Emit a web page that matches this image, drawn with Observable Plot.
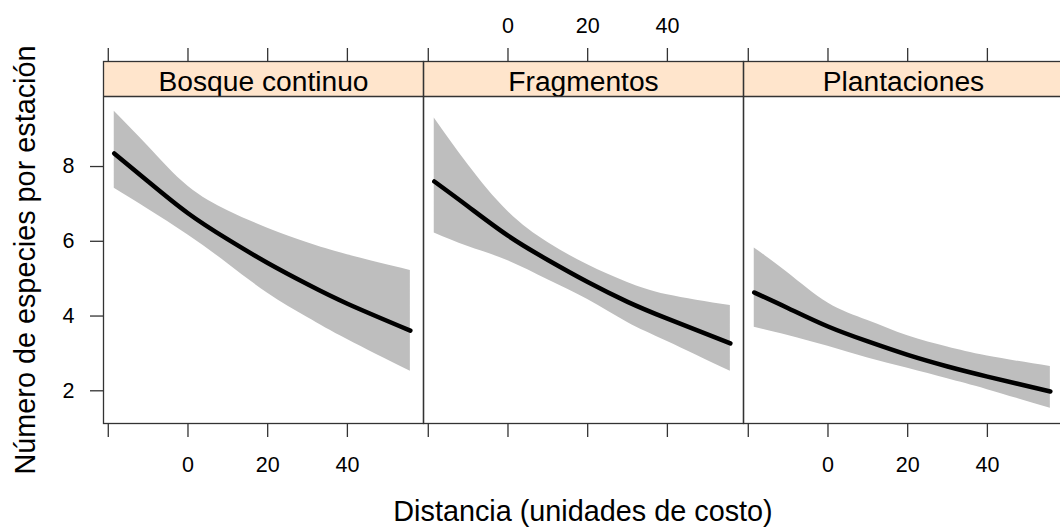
<!DOCTYPE html>
<html>
<head>
<meta charset="utf-8">
<script src="https://cdn.jsdelivr.net/npm/d3@7"></script>
<script src="https://cdn.jsdelivr.net/npm/@observablehq/plot@0.6"></script>
<style>
  html, body { margin: 0; padding: 0; background: #fff; overflow: hidden; }
  #chart { position: relative; width: 1060px; height: 527px; overflow: hidden;
           font-family: "Liberation Sans", Arial, Helvetica, sans-serif; }
  #chart svg { display: block; }
  .axis-title { position: absolute; font-size: 28.8px; line-height: 1; color: #000;
                white-space: nowrap; transform: translate(-50%, -50%); }
  .axis-title.y { transform: translate(-50%, -50%) rotate(-90deg); }
</style>
</head>
<body>
<div id="chart">
  <div class="axis-title y" style="left:25px; top:260px;">Número de especies por estación</div>
  <div class="axis-title x" style="left:583px; top:511px;">Distancia (unidades de costo)</div>
</div>
<script>
// Paneles (tipo de hábitat)
const panels = ["Bosque continuo", "Fragmentos", "Plantaciones"];

// Distancia en la que se evalúa el efecto
const distance = [-18.5, -10, 0, 10, 20, 30, 40, 55.8];

// Bosque continuo: ajuste e intervalo de confianza
const bosqueFit   = [8.35, 7.60, 6.75, 6.05, 5.42, 4.85, 4.33, 3.61];
const bosqueLower = [7.42, 6.86, 6.17, 5.40, 4.61, 3.96, 3.37, 2.52];
const bosqueUpper = [9.48, 8.54, 7.47, 6.82, 6.35, 5.96, 5.64, 5.22];

// Fragmentos
const fragFit   = [7.60, 6.93, 6.15, 5.50, 4.91, 4.38, 3.93, 3.27];
const fragLower = [6.22, 5.86, 5.48, 4.97, 4.44, 3.83, 3.32, 2.52];
const fragUpper = [9.30, 8.05, 6.80, 5.97, 5.37, 4.90, 4.57, 4.28];

// Plantaciones
const plantFit   = [4.63, 4.21, 3.72, 3.32, 2.96, 2.65, 2.38, 1.98];
const plantLower = [3.70, 3.48, 3.19, 2.88, 2.60, 2.32, 2.03, 1.53];
const plantUpper = [5.82, 5.15, 4.35, 3.88, 3.47, 3.17, 2.93, 2.65];

// Ejes
const xTicks = [-20, 0, 20, 40];
const xTickLabels = ["", "0", "20", "40"];
const yTicks = [2, 4, 6, 8];
const bottomLabelPanels = ["Bosque continuo", "Plantaciones"];
const topLabelPanels = ["Fragmentos"];

// Límites de los paneles (la franja del título ocupa la parte superior)
const xLimits = [-21.2, 59.1];
const yLimits = [1.125, 9.873];
const stripTop = 10.81;

// Tabla larga para las marcas
const fits = [bosqueFit, fragFit, plantFit];
const lowers = [bosqueLower, fragLower, plantLower];
const uppers = [bosqueUpper, fragUpper, plantUpper];
const rows = panels.flatMap((panel, p) =>
  distance.map((x, i) => ({panel, x, fit: fits[p][i], lower: lowers[p][i], upper: uppers[p][i]}))
);

const tickText = (panelList) => panelList.flatMap(panel =>
  xTicks.map((x, i) => ({panel, x, label: xTickLabels[i]})).filter(d => d.label !== "")
);

const plot = Plot.plot({
  width: 1063,
  height: 527,
  marginLeft: 103,
  marginRight: 0,
  marginTop: 61,
  marginBottom: 104,
  style: {
    fontFamily: "'Liberation Sans', Arial, Helvetica, sans-serif",
    color: "#000",
    background: "transparent",
    maxWidth: "none",
    overflow: "visible"
  },
  fx: {domain: panels, padding: 0, axis: null, label: null},
  x: {domain: xLimits, label: null},
  y: {domain: [yLimits[0], stripTop], label: null},
  marks: [
    // franja con el nombre del panel
    Plot.rect(panels, {fx: d => d, y1: yLimits[1], y2: stripTop, fill: "#FFE5CC"}),
    Plot.text(panels, {
      fx: d => d, text: d => d, y: (yLimits[1] + stripTop) / 2, dy: 3,
      lineAnchor: "middle", fontSize: 28.2, fill: "#000"
    }),
    // intervalo de confianza y curva ajustada
    Plot.areaY(rows, {fx: "panel", x: "x", y1: "lower", y2: "upper", fill: "#BEBEBE", curve: "natural"}),
    Plot.line(rows, {fx: "panel", x: "x", y: "fit", stroke: "#000", strokeWidth: 4.5, curve: "natural"}),
    Plot.ruleY([yLimits[1]], {stroke: "#333", strokeWidth: 1.3}),
    Plot.frame({stroke: "#333", strokeWidth: 1.3}),
    // ejes
    Plot.axisY({ticks: yTicks, tickSize: 13, tickPadding: 16, fontSize: 21.5, stroke: "#333", strokeWidth: 1.3, label: null}),
    Plot.axisX({anchor: "bottom", ticks: xTicks, tickSize: 14, tickFormat: () => "", stroke: "#333", strokeWidth: 1.3, label: null}),
    Plot.axisX({anchor: "top", ticks: xTicks, tickSize: 14, tickFormat: () => "", stroke: "#333", strokeWidth: 1.3, label: null}),
    Plot.text(tickText(bottomLabelPanels), {fx: "panel", x: "x", text: "label", frameAnchor: "bottom", lineAnchor: "middle", dy: 42, fontSize: 21.5, fill: "#000"}),
    Plot.text(tickText(topLabelPanels), {fx: "panel", x: "x", text: "label", frameAnchor: "top", lineAnchor: "middle", dy: -35, fontSize: 21.5, fill: "#000"})
  ]
});

// las marcas de los ejes x no llevan texto propio
d3.select(plot).selectAll("text").filter(function () { return this.textContent === ""; }).remove();

document.getElementById("chart").prepend(plot);
</script>
</body>
</html>
